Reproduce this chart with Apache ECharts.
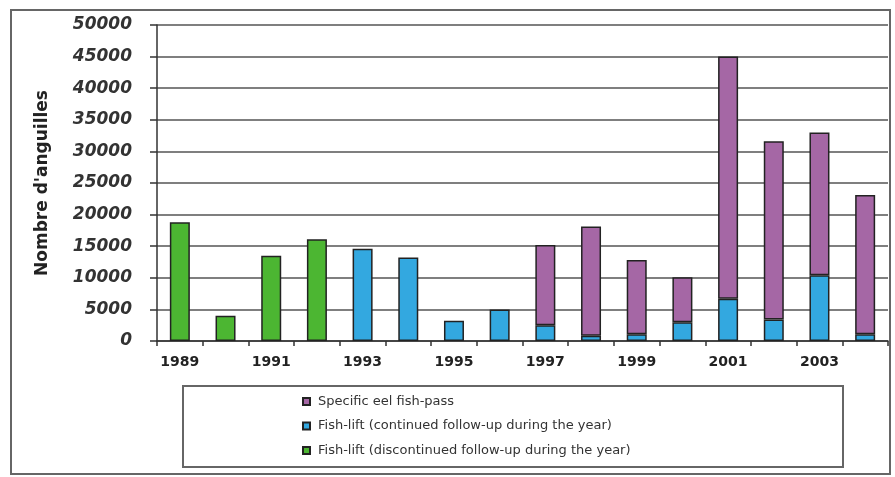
<!DOCTYPE html>
<html>
<head>
<meta charset="utf-8">
<script src="https://cdn.jsdelivr.net/npm/echarts@6/dist/echarts.min.js"></script>
<style>
  html, body { margin: 0; padding: 0; background: #ffffff; }
  #chart { width: 895px; height: 477px; }
</style>
</head>
<body>
<div id="chart"></div>
<script>
// Eel counts per year at the fish-pass / fish-lift
const years = ['1989', '1990', '1991', '1992', '1993', '1994', '1995', '1996',
               '1997', '1998', '1999', '2000', '2001', '2002', '2003', '2004'];

// Fish-lift, discontinued follow-up during the year
const liftDiscontinued = [18800, 4000, 13500, 16100, null, null, null, null,
                          null, null, null, null, null, null, null, null];

// Fish-lift, continued follow-up during the year
const liftContinued = [null, null, null, null, 14600, 13200, 3200, 5000,
                       2500, 850, 1050, 2950, 6700, 3400, 10400, 1050];

// Specific eel fish-pass (stacked above the fish-lift counts)
const eelPass = [null, null, null, null, null, null, null, null,
                 12700, 17250, 11750, 7150, 38300, 28200, 22600, 22050];

const seriesNames = [
  'Specific eel fish-pass',
  'Fish-lift (continued follow-up during the year)',
  'Fish-lift (discontinued follow-up during the year)'
];

const yTitle = "Nombre d'anguilles";

const chart = echarts.init(document.getElementById('chart'), null, { renderer: 'canvas' });

const barBorder = { borderColor: '#222', borderWidth: 1.5 };

chart.setOption({
  backgroundColor: '#ffffff',
  animation: false,
  grid: { left: 157, right: 7, top: 25, bottom: 136, containLabel: false },
  legend: {
    data: seriesNames,
    orient: 'vertical',
    left: 302,
    top: 394,
    padding: 0,
    itemWidth: 7,
    itemHeight: 7,
    itemGap: 9.5,
    icon: 'rect',
    selectedMode: false,
    textStyle: {
      fontFamily: 'DejaVu Sans, sans-serif',
      fontSize: 13,
      lineHeight: 15,
      color: '#333',
      padding: [0, 0, 0, 3]
    }
  },
  xAxis: {
    type: 'category',
    data: years,
    axisLine: { lineStyle: { color: '#333', width: 1.5 } },
    axisTick: { show: true, interval: 0, length: 5, lineStyle: { color: '#333', width: 1.5 } },
    axisLabel: {
      interval: 1,
      margin: 14,
      fontFamily: 'DejaVu Sans, sans-serif',
      fontWeight: 'bold',
      fontSize: 14,
      color: '#222'
    }
  },
  yAxis: {
    type: 'value',
    min: 0,
    max: 50000,
    interval: 5000,
    name: yTitle,
    nameLocation: 'middle',
    nameGap: 106,
    nameTextStyle: {
      fontFamily: 'DejaVu Sans, sans-serif',
      fontWeight: 'bold',
      fontSize: 17,
      color: '#222'
    },
    axisLine: { show: true, lineStyle: { color: '#333', width: 1.5 } },
    axisTick: { show: true, length: 7, lineStyle: { color: '#333', width: 1.5 } },
    splitLine: { show: true, lineStyle: { color: '#555', width: 1.5 } },
    axisLabel: {
      margin: 25,
      formatter: v => String(v),
      fontFamily: 'DejaVu Sans, sans-serif',
      fontStyle: 'italic',
      fontWeight: 'bold',
      fontSize: 17,
      color: '#333'
    }
  },
  graphic: [
    {
      type: 'rect',
      silent: true,
      shape: { x: 11, y: 10, width: 879, height: 464 },
      style: { fill: 'none', stroke: '#666', lineWidth: 2 },
      z: 0
    },
    {
      type: 'rect',
      silent: true,
      shape: { x: 183, y: 386, width: 660, height: 81 },
      style: { fill: 'none', stroke: '#666', lineWidth: 2 },
      z: 0
    }
  ],
  series: [
    {
      name: seriesNames[2],
      type: 'bar',
      stack: 'total',
      barWidth: 20,
      data: liftDiscontinued,
      itemStyle: Object.assign({ color: '#4CB632' }, barBorder)
    },
    {
      name: seriesNames[1],
      type: 'bar',
      stack: 'total',
      barWidth: 20,
      data: liftContinued,
      itemStyle: Object.assign({ color: '#33A8E0' }, barBorder)
    },
    {
      name: seriesNames[0],
      type: 'bar',
      stack: 'total',
      barWidth: 20,
      data: eelPass,
      itemStyle: Object.assign({ color: '#A567A5' }, barBorder)
    }
  ]
});
</script>
</body>
</html>
